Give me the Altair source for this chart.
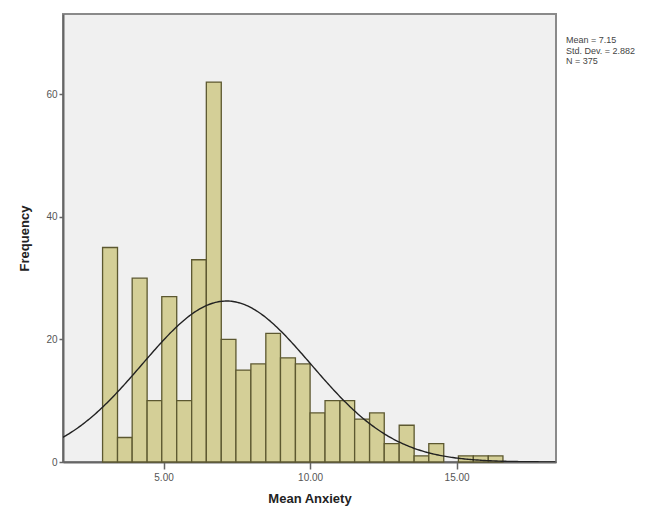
import altair as alt
import pandas as pd

# Histogram bins (lower edges) and counts
bin_lo = [2.92, 3.43, 3.93, 4.44, 4.94, 5.45, 5.96, 6.46, 6.97, 7.47, 7.98, 8.49,
          8.99, 9.50, 10.00, 10.51, 11.02, 11.52, 12.03, 12.53, 13.04, 13.55,
          14.05, 14.56, 15.06, 15.57, 16.08]
bin_hi = [3.43, 3.93, 4.44, 4.94, 5.45, 5.96, 6.46, 6.97, 7.47, 7.98, 8.49, 8.99,
          9.50, 10.00, 10.51, 11.02, 11.52, 12.03, 12.53, 13.04, 13.55, 14.05,
          14.56, 15.06, 15.57, 16.08, 16.58]
counts = [35, 4, 30, 10, 27, 10, 33, 62, 20, 15, 16, 21, 17, 16, 8, 10, 10, 7, 8,
          3, 6, 1, 3, 0, 1, 1, 1]

MEAN = 7.15
SD = 2.882
N = 375
BIN_WIDTH = 0.506
stats_lines = ["Mean = 7.15", "Std. Dev. = 2.882", "N = 375"]

x_ticks = [5, 10, 15]
y_ticks = [0, 20, 40, 60]
X_DOMAIN = [1.57, 18.39]
Y_DOMAIN = [0, 73.1]

df = pd.DataFrame({"lo": bin_lo, "hi": bin_hi, "count": counts})
df = df[df["count"] > 0]

FONT = "Liberation Sans"

x_scale = alt.Scale(domain=X_DOMAIN, nice=False, zero=False)
y_scale = alt.Scale(domain=Y_DOMAIN, nice=False)
x_axis = alt.Axis(values=x_ticks, format=".2f", title="Mean Anxiety",
                  grid=False, tickSize=7, labelPadding=3, titlePadding=10)
y_axis = alt.Axis(values=y_ticks, title="Frequency", grid=False,
                  tickSize=4, labelPadding=2, titlePadding=14)

bars = alt.Chart(df).mark_rect(
    fill="#d4cf97", stroke="#5c5830", strokeWidth=1.3
).encode(
    x=alt.X("lo:Q", scale=x_scale, axis=x_axis),
    x2="hi:Q",
    y=alt.Y("count:Q", scale=y_scale, axis=y_axis),
    y2=alt.datum(0),
)

curve = alt.Chart(alt.sequence(X_DOMAIN[0], X_DOMAIN[1], 0.05, as_="x")).transform_calculate(
    dens=f"{N}*{BIN_WIDTH}*exp(-pow(datum.x-{MEAN},2)/(2*{SD}*{SD}))/({SD}*sqrt(2*PI))"
).mark_line(color="#222222", strokeWidth=1.4, clip=True).encode(
    x=alt.X("x:Q", scale=x_scale, axis=x_axis),
    y=alt.Y("dens:Q", scale=y_scale, axis=y_axis),
)

stat_layers = []
for i, line in enumerate(stats_lines):
    stat_layers.append(
        alt.Chart(pd.DataFrame({"text": [line]})).mark_text(
            align="left", baseline="middle", fontSize=9, font=FONT, color="#444444"
        ).encode(
            x=alt.value(503),
            y=alt.value(26 + i * 10.5),
            text="text:N",
        )
    )

chart = alt.layer(bars, curve, *stat_layers).properties(
    width=493, height=448,
    padding={"left": 55, "top": 6, "right": 100, "bottom": 45},
    autosize=alt.AutoSizeParams(type="none"),
    background="white",
).configure_view(
    fill="#f0f0f0", stroke="#8a8a8a", strokeWidth=2
).configure_axis(
    domainColor="#666666", domainWidth=2, tickColor="#666666", tickWidth=1.5,
    labelFont=FONT, labelFontSize=10, labelColor="#555555",
    titleFont=FONT, titleFontSize=13, titleFontWeight="bold", titleColor="#222222",
)

chart.save("out.html", embed_options={"renderer": "svg", "actions": False})
